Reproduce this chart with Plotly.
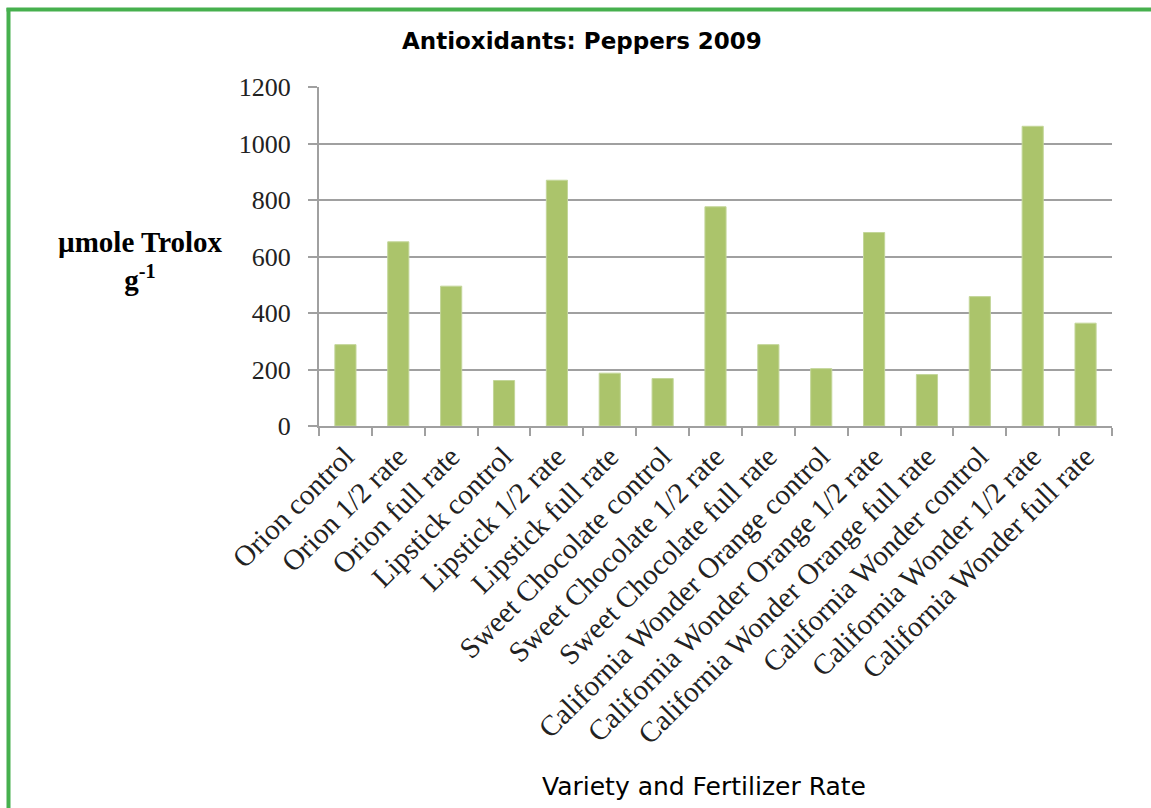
import plotly.graph_objects as go

# Antioxidant content of pepper varieties under three fertilizer treatments
categories = [
    "Orion control", "Orion 1/2 rate", "Orion full rate",
    "Lipstick control", "Lipstick 1/2 rate", "Lipstick full rate",
    "Sweet Chocolate control", "Sweet Chocolate 1/2 rate", "Sweet Chocolate full rate",
    "California Wonder Orange control", "California Wonder Orange 1/2 rate",
    "California Wonder Orange full rate",
    "California Wonder control", "California Wonder 1/2 rate", "California Wonder full rate",
]
trolox = [288, 652, 495, 161, 870, 187, 168, 776, 288, 203, 685, 182, 458, 1061, 364]
y_ticks = [0, 200, 400, 600, 800, 1000, 1200]

W, H = 1151, 808
ML, MR, MT, MB = 319, 39, 87, 382
PW, PH = W - ML - MR, H - MT - MB


def px(x):
    return (x - ML) / PW


def py(y):
    return (H - MB - y) / PH


GRID = "#a0a0a0"
SERIF = "Liberation Serif, Times New Roman, serif"
SANS = "DejaVu Sans, Arial, sans-serif"

fig = go.Figure(
    go.Bar(
        x=categories,
        y=trolox,
        marker=dict(color="#abc46b", line=dict(color="#c3d699", width=1)),
        hoverinfo="x+y",
    )
)

fig.update_layout(
    width=W,
    height=H,
    margin=dict(l=ML, r=MR, t=MT, b=MB),
    paper_bgcolor="white",
    plot_bgcolor="white",
    bargap=0.6,
    showlegend=False,
    xaxis=dict(
        tickangle=-45,
        tickfont=dict(family=SERIF, size=29, color="#222222"),
        showgrid=False,
        showline=True,
        linecolor=GRID,
        linewidth=2,
        ticks="outside",
        tickson="boundaries",
        ticklen=8,
        tickcolor=GRID,
        tickwidth=1.5,
    ),
    yaxis=dict(
        range=[0, 1200],
        tickvals=y_ticks,
        tickfont=dict(family=SERIF, size=26, color="#222222"),
        showgrid=True,
        gridcolor=GRID,
        gridwidth=1.5,
        showline=True,
        linecolor=GRID,
        linewidth=2,
        ticks="outside",
        ticklen=9,
        tickcolor=GRID,
        tickwidth=1.5,
        ticklabelstandoff=12,
        zeroline=False,
    ),
    annotations=[
        dict(
            text="<b>Antioxidants: Peppers 2009</b>",
            x=px(582), y=py(41), xref="paper", yref="paper",
            showarrow=False, xanchor="center", yanchor="middle",
            font=dict(family=SANS, size=23, color="black"),
        ),
        dict(
            text="<b>µmole Trolox<br>g<sup>-1</sup></b>",
            x=px(140), y=py(261), xref="paper", yref="paper",
            showarrow=False, xanchor="center", yanchor="middle",
            font=dict(family=SERIF, size=29, color="black"),
        ),
        dict(
            text="Variety and Fertilizer Rate",
            x=px(704), y=py(786), xref="paper", yref="paper",
            showarrow=False, xanchor="center", yanchor="middle",
            font=dict(family=SANS, size=25, color="black"),
        ),
    ],
    shapes=[
        # green frame along the left and top edges
        dict(type="line", xref="paper", yref="paper",
             x0=px(8.5), x1=px(8.5), y0=py(8), y1=py(H + 5),
             line=dict(color="#46b04e", width=4)),
        dict(type="line", xref="paper", yref="paper",
             x0=px(6.5), x1=px(W + 5), y0=py(9.5), y1=py(9.5),
             line=dict(color="#46b04e", width=4)),
    ],
)

fig.write_html("out.html")
